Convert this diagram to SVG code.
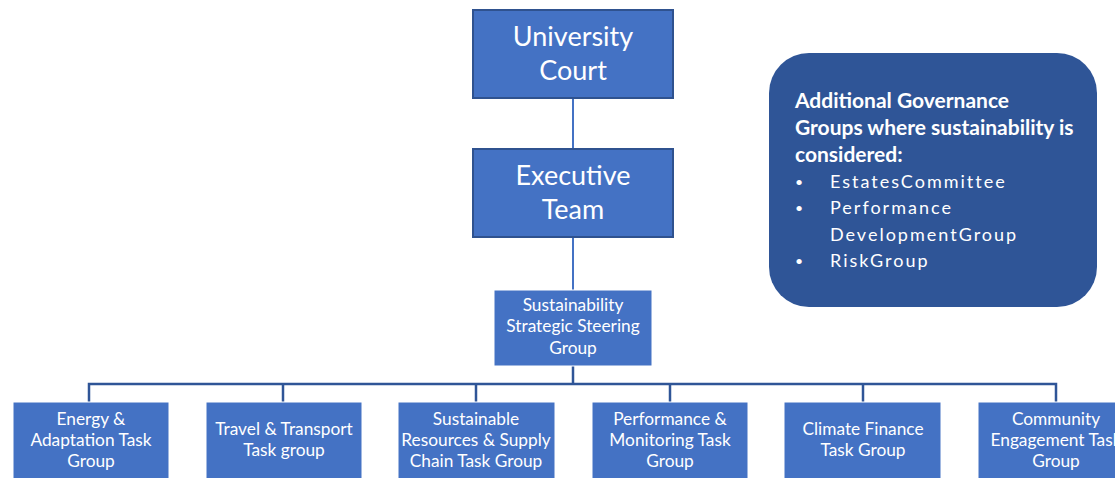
<svg xmlns="http://www.w3.org/2000/svg" width="1115" height="478" viewBox="0 0 1115 478">
  <style>
    .box { fill: #4472c4; stroke: #ffffff; stroke-width: 1; }
    .top { fill: #4472c4; stroke: #2f528f; stroke-width: 2; }
    .t { font-family: Lato, "Open Sans", sans-serif; fill: #ffffff; text-anchor: middle; }
    .big { font-size: 27px; }
    .small { font-size: 17.3px; }
    .link { stroke: #4472c4; stroke-width: 2; fill: none; }
    .bus { stroke: #2f5597; stroke-width: 2.5; fill: none; }
    .note { font-family: Lato, "Open Sans", sans-serif; fill: #ffffff; font-size: 18.5px; }
    .hd { font-weight: bold; font-size: 21px; }
    .dot { font-size: 14px; }
    .li { font-size: 18px; letter-spacing: 2px; }
  </style>

  <g id="connectors">
    <line class="link" x1="573" y1="98" x2="573" y2="148"/>
    <line class="link" x1="573" y1="237" x2="573" y2="290"/>
    <line class="bus" x1="573" y1="366" x2="573" y2="384"/>
    <path class="bus" d="M89 402 V384 H1056 V402"/>
    <line class="bus" x1="283" y1="384" x2="283" y2="402"/>
    <line class="bus" x1="476" y1="384" x2="476" y2="402"/>
    <line class="bus" x1="670" y1="384" x2="670" y2="402"/>
    <line class="bus" x1="863" y1="384" x2="863" y2="402"/>
  </g>

  <g id="university-court">
    <rect class="top" x="473" y="10" width="200" height="88"/>
    <text class="t big" x="573" y="46">University</text>
    <text class="t big" x="573" y="80">Court</text>
  </g>

  <g id="executive-team">
    <rect class="top" x="473" y="149" width="200" height="88"/>
    <text class="t big" x="573" y="185">Executive</text>
    <text class="t big" x="573" y="219">Team</text>
  </g>

  <g id="steering-group">
    <rect class="box" x="494" y="290" width="158" height="76"/>
    <text class="t small" x="573" y="311">Sustainability</text>
    <text class="t small" x="573" y="332">Strategic Steering</text>
    <text class="t small" x="573" y="354">Group</text>
  </g>

  <g id="energy-adaptation">
    <rect class="box" x="13" y="402" width="156" height="80"/>
    <text class="t small" x="91" y="425">Energy &amp;</text>
    <text class="t small" x="91" y="446">Adaptation Task</text>
    <text class="t small" x="91" y="467">Group</text>
  </g>

  <g id="travel-transport">
    <rect class="box" x="206" y="402" width="156" height="80"/>
    <text class="t small" x="284" y="435">Travel &amp; Transport</text>
    <text class="t small" x="284" y="456">Task group</text>
  </g>

  <g id="resources-supply-chain">
    <rect class="box" x="398" y="402" width="157" height="80"/>
    <text class="t small" x="476" y="425">Sustainable</text>
    <text class="t small" x="476" y="446">Resources &amp; Supply</text>
    <text class="t small" x="476" y="467">Chain Task Group</text>
  </g>

  <g id="performance-monitoring">
    <rect class="box" x="592" y="402" width="156" height="80"/>
    <text class="t small" x="670" y="425">Performance &amp;</text>
    <text class="t small" x="670" y="446">Monitoring Task</text>
    <text class="t small" x="670" y="467">Group</text>
  </g>

  <g id="climate-finance">
    <rect class="box" x="784" y="402" width="157" height="80"/>
    <text class="t small" x="863" y="435">Climate Finance</text>
    <text class="t small" x="863" y="456">Task Group</text>
  </g>

  <g id="community-engagement">
    <rect class="box" x="978" y="402" width="156" height="80"/>
    <text class="t small" x="1056" y="425">Community</text>
    <text class="t small" x="1056" y="446">Engagement Task</text>
    <text class="t small" x="1056" y="467">Group</text>
  </g>

  <g id="additional-governance">
    <rect x="769" y="53" width="328" height="254" rx="40" ry="40" fill="#2f5597"/>
    <text class="note hd" x="795" y="108">Additional Governance</text>
    <text class="note hd" x="795" y="135">Groups where sustainability is</text>
    <text class="note hd" x="795" y="162">considered:</text>
    <text class="note dot" x="795" y="187">•</text>
    <text class="note li" x="830" y="188">EstatesCommittee</text>
    <text class="note dot" x="795" y="213">•</text>
    <text class="note li" x="830" y="214">Performance</text>
    <text class="note li" x="830" y="241">DevelopmentGroup</text>
    <text class="note dot" x="795" y="266">•</text>
    <text class="note li" x="830" y="267">RiskGroup</text>
  </g>
</svg>
